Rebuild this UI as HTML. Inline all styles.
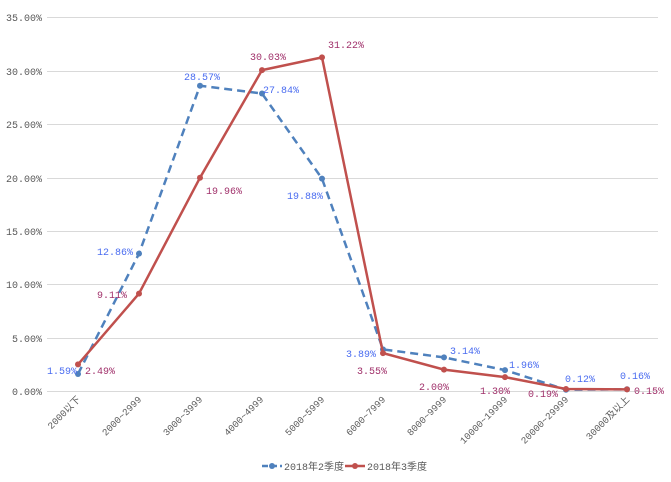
<!DOCTYPE html>
<html><head><meta charset="utf-8"><style>
body{margin:0;background:#fff;}
svg{display:block;font-family:"Liberation Mono","Noto Sans CJK SC",monospace;}
</style></head><body>
<svg width="671" height="482" viewBox="0 0 671 482">
<g stroke="#d9d9d9" stroke-width="1">
<line x1="47" y1="17.5" x2="658" y2="17.5"/>
<line x1="47" y1="71.5" x2="658" y2="71.5"/>
<line x1="47" y1="124.5" x2="658" y2="124.5"/>
<line x1="47" y1="178.5" x2="658" y2="178.5"/>
<line x1="47" y1="231.5" x2="658" y2="231.5"/>
<line x1="47" y1="284.5" x2="658" y2="284.5"/>
<line x1="47" y1="338.5" x2="658" y2="338.5"/>
<line x1="47" y1="391.5" x2="658" y2="391.5"/>
</g>
<g font-size="10" fill="#595959" text-anchor="end">
<text x="42" y="21">35.00%</text>
<text x="42" y="75">30.00%</text>
<text x="42" y="128">25.00%</text>
<text x="42" y="182">20.00%</text>
<text x="42" y="235">15.00%</text>
<text x="42" y="288">10.00%</text>
<text x="42" y="342">5.00%</text>
<text x="42" y="395">0.00%</text>
</g>
<g font-size="9.5" fill="#595959" text-anchor="end">
<text transform="translate(81,400) rotate(-45)">2000以下</text>
<text transform="translate(142,400) rotate(-45)">2000~2999</text>
<text transform="translate(203,400) rotate(-45)">3000~3999</text>
<text transform="translate(264,400) rotate(-45)">4000~4999</text>
<text transform="translate(325,400) rotate(-45)">5000~5999</text>
<text transform="translate(386,400) rotate(-45)">6000~7999</text>
<text transform="translate(447,400) rotate(-45)">8000~9999</text>
<text transform="translate(508,400) rotate(-45)">10000~19999</text>
<text transform="translate(569,400) rotate(-45)">20000~29999</text>
<text transform="translate(630,400) rotate(-45)">30000及以上</text>
</g>
<polyline fill="none" stroke="#4f81bd" stroke-width="2.5" stroke-dasharray="8,5" points="78,374 139,253.6 200,85.7 262,93.5 322,178.6 383,349.4 444,357.4 505,370.1 566,389.7 627,389.3"/>
<g fill="#4f81bd"><circle cx="78" cy="374" r="3"/><circle cx="139" cy="253.6" r="3"/><circle cx="200" cy="85.7" r="3"/><circle cx="262" cy="93.5" r="3"/><circle cx="322" cy="178.6" r="3"/><circle cx="383" cy="349.4" r="3"/><circle cx="444" cy="357.4" r="3"/><circle cx="505" cy="370.1" r="3"/><circle cx="566" cy="389.7" r="3"/><circle cx="627" cy="389.3" r="3"/></g>
<polyline fill="none" stroke="#c0504d" stroke-width="2.5" points="78,364.4 139,293.6 200,177.7 262,70.1 322,57.4 383,353.1 444,369.6 505,377.1 566,389 627,389.4"/>
<g fill="#c0504d"><circle cx="78" cy="364.4" r="3"/><circle cx="139" cy="293.6" r="3"/><circle cx="200" cy="177.7" r="3"/><circle cx="262" cy="70.1" r="3"/><circle cx="322" cy="57.4" r="3"/><circle cx="383" cy="353.1" r="3"/><circle cx="444" cy="369.6" r="3"/><circle cx="505" cy="377.1" r="3"/><circle cx="566" cy="389" r="3"/><circle cx="627" cy="389.4" r="3"/></g>
<g font-size="10" fill="#4a6cf0">
<text x="47" y="374">1.59%</text>
<text x="97" y="255">12.86%</text>
<text x="184" y="80">28.57%</text>
<text x="263" y="93">27.84%</text>
<text x="287" y="199">19.88%</text>
<text x="346" y="357">3.89%</text>
<text x="450" y="354">3.14%</text>
<text x="509" y="368">1.96%</text>
<text x="565" y="382">0.12%</text>
<text x="620" y="379">0.16%</text>
</g>
<g font-size="10" fill="#a0306a">
<text x="85" y="374">2.49%</text>
<text x="97" y="298">9.11%</text>
<text x="206" y="194">19.96%</text>
<text x="250" y="60">30.03%</text>
<text x="328" y="48">31.22%</text>
<text x="357" y="374">3.55%</text>
<text x="419" y="390">2.00%</text>
<text x="480" y="394">1.30%</text>
<text x="528" y="397">0.19%</text>
<text x="634" y="394">0.15%</text>
</g>
<line x1="262" y1="466" x2="282" y2="466" stroke="#4f81bd" stroke-width="2.5" stroke-dasharray="6,3"/>
<circle cx="272" cy="466" r="3" fill="#4f81bd"/>
<text x="284" y="470" font-size="10" fill="#595959">2018年2季度</text>
<line x1="345" y1="466" x2="365" y2="466" stroke="#c0504d" stroke-width="2.5"/>
<circle cx="355" cy="466" r="3" fill="#c0504d"/>
<text x="367" y="470" font-size="10" fill="#595959">2018年3季度</text>
</svg>
</body></html>
